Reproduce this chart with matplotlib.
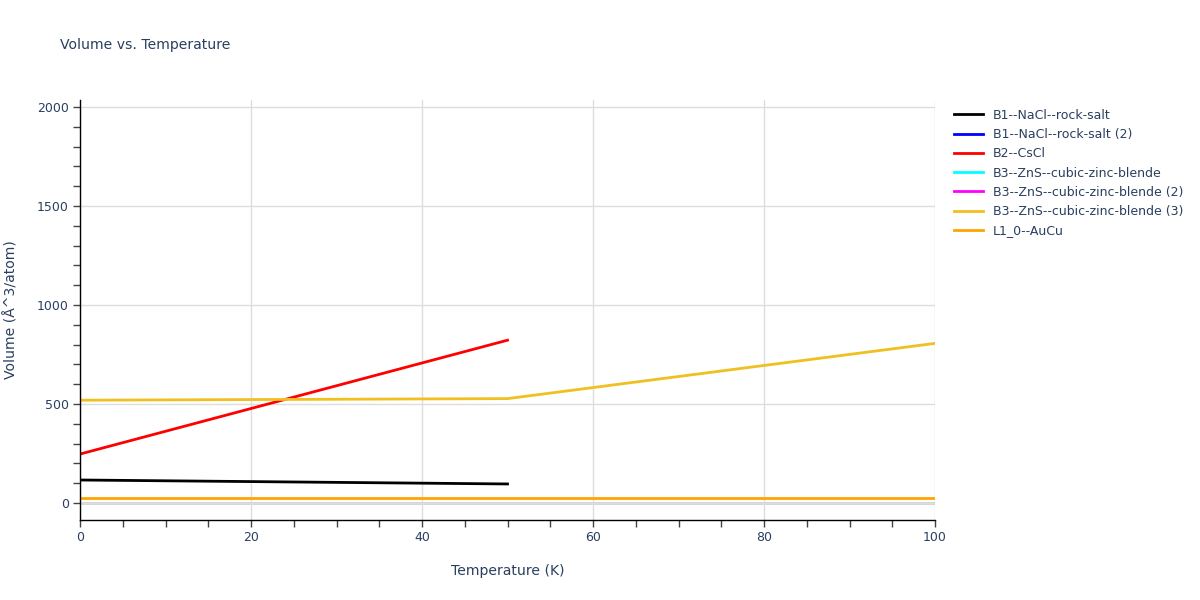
import matplotlib
matplotlib.use('Agg')
import matplotlib.pyplot as plt
from matplotlib.ticker import MultipleLocator

# Data (series with no visible line are left empty)
names = ['B1--NaCl--rock-salt', 'B1--NaCl--rock-salt (2)', 'B2--CsCl',
         'B3--ZnS--cubic-zinc-blende', 'B3--ZnS--cubic-zinc-blende (2)',
         'B3--ZnS--cubic-zinc-blende (3)', 'L1_0--AuCu']
colors = ['#000000', '#0000ff', '#ff0000', '#00ffff', '#ff00ff', '#f0c020', '#ffa500']

temp_b1 = [0, 50]
vol_b1 = [116, 96]
temp_b1_2 = []
vol_b1_2 = []
temp_b2 = [0, 50]
vol_b2 = [247, 822]
temp_b3 = []
vol_b3 = []
temp_b3_2 = []
vol_b3_2 = []
temp_b3_3 = [0, 50, 100]
vol_b3_3 = [519, 527, 806]
temp_l10 = [0, 50, 100]
vol_l10 = [24, 24, 24]

series = [(temp_b1, vol_b1), (temp_b1_2, vol_b1_2), (temp_b2, vol_b2),
          (temp_b3, vol_b3), (temp_b3_2, vol_b3_2), (temp_b3_3, vol_b3_3),
          (temp_l10, vol_l10)]

txt = '#2a3f5f'
px = 72 / 100  # pixel -> point at dpi 100

fig = plt.figure(figsize=(12, 6), dpi=100)
ax = fig.add_axes([80 / 1200, 1 - 520 / 600, 855 / 1200, 420 / 600])

for (x, y), name, c in zip(series, names, colors):
    ax.plot(x, y, color=c, lw=2, label=name)

ax.set_xlim(0, 100)
ax.set_ylim(-86, 2035)
ax.xaxis.set_major_locator(MultipleLocator(20))
ax.xaxis.set_minor_locator(MultipleLocator(5))
ax.yaxis.set_major_locator(MultipleLocator(500))
ax.yaxis.set_minor_locator(MultipleLocator(100))
ax.grid(True, which='major', color='#dddddd', lw=1)
ax.axhline(0, color='#d0d0d0', lw=2, zorder=0.5)
ax.set_axisbelow(True)

for s in ['top', 'right']:
    ax.spines[s].set_visible(False)
for s in ['left', 'bottom']:
    ax.spines[s].set_color('black')
    ax.spines[s].set_linewidth(1)

ax.tick_params(which='major', length=5, width=1, color='#444444', labelsize=12.5 * px,
               labelcolor=txt, pad=3)
ax.tick_params(which='minor', length=5, width=1, color='#444444')

ax.set_xlabel('Temperature (K)', fontsize=14 * px, color=txt, labelpad=14)
ax.set_ylabel('Volume (Å^3/atom)', fontsize=14 * px, color=txt, labelpad=13)
fig.text(60 / 1200, 1 - 45 / 600, 'Volume vs. Temperature', fontsize=14 * px,
         color=txt, va='center', ha='left')

leg = ax.legend(loc='upper left', bbox_to_anchor=(1.012, 1.0), frameon=False,
                fontsize=12.5 * px, handlelength=2.3, labelspacing=0.5,
                borderaxespad=0.3)
for t in leg.get_texts():
    t.set_color(txt)

fig.savefig('out.png', dpi=100)
